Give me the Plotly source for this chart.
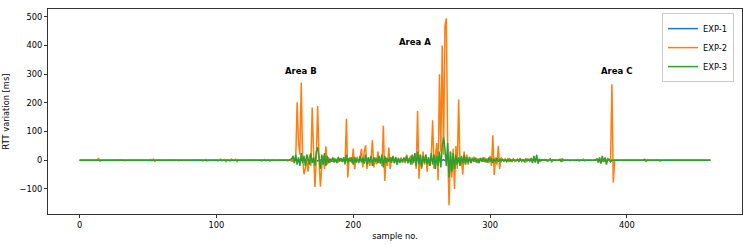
import plotly.graph_objects as go

exp2 = [
    0,0,0,0,0,0,0,0,0,0,0,0,0,3,6,-4,0,0,0,0,
    0,0,0,0,0,0,0,0,0,0,0,0,2,-2,0,0,0,0,0,0,
    0,0,0,0,0,0,0,0,0,0,0,0,3,-2,4,-4,0,0,0,0,
    0,0,0,0,0,0,0,0,0,0,0,2,-2,0,0,0,0,0,0,0,
    0,0,0,0,0,0,0,0,0,2,-3,0,3,-2,0,0,0,0,0,0,
    2,-3,0,4,-2,0,3,-5,2,0,-3,4,0,-2,3,-6,2,0,0,0,
    0,0,0,0,0,0,0,0,0,0,0,0,2,-3,0,3,-2,0,2,-3,
    0,2,0,0,0,0,0,0,0,0,0,2,-2,0,3,-5,10,-8,15,202,
    60,20,271,10,-49,-30,5,-40,20,-20,184,30,-93,10,189,0,-92,-20,15,-30,
    49,-15,10,-10,5,-5,8,-3,2,-8,5,3,-5,10,-15,145,-60,5,10,-10,
    41,-31,5,10,-5,8,40,-25,30,52,-30,10,-20,5,70,-25,10,-15,30,-10,
    5,-20,120,-72,10,-20,44,-30,10,5,-10,8,0,5,-8,10,-5,5,-10,20,
    -10,5,15,-15,5,20,-30,172,-64,20,-30,30,-15,20,-40,10,-20,15,139,-30,
    10,60,-70,300,30,400,20,470,495,40,-157,30,-60,40,-100,50,-30,212,-20,10,
    -50,30,-10,20,-15,10,-10,5,10,-5,8,-10,5,0,5,-5,10,-8,5,-10,
    15,-20,87,-51,10,-15,50,-30,10,0,-5,5,0,-5,8,-3,0,5,-5,0,
    3,-5,8,-4,2,0,-6,5,0,3,-3,0,5,-5,3,0,-4,2,0,0,
    3,-2,0,0,5,-4,0,2,0,0,0,0,4,-3,0,0,0,2,-2,0,
    0,0,0,0,3,-3,0,0,4,-2,0,0,0,0,0,0,0,0,0,3,
    -4,5,-3,2,8,-4,3,0,-5,265,-78,0,0,0,0,0,0,0,0,0,
    0,0,0,0,0,0,0,0,0,0,0,0,0,3,-4,2,0,0,0,0,
    0,0,0,2,-3,0,0,0,0,0,0,0,0,0,0,0,0,0,0,0,
    0,0,0,0,0,0,0,0,0,0,0,0,0,0,0,0,0,0,0,0,
    0,0,
]

exp3 = [
    0,0,0,0,0,0,0,0,0,0,0,0,0,0,0,0,0,0,0,0,
    0,0,0,0,0,0,0,0,0,0,0,0,0,0,0,0,0,0,0,0,
    0,0,0,0,0,0,0,0,0,0,0,0,0,0,0,0,1,-1,0,0,
    0,0,0,0,0,0,0,0,0,0,0,0,0,0,0,0,0,0,0,0,
    0,0,0,0,0,0,0,0,0,0,0,0,0,0,0,0,0,0,0,0,
    0,0,0,0,0,0,0,0,0,0,0,0,0,0,0,0,0,0,0,0,
    0,0,0,0,0,0,0,0,0,0,0,0,0,0,0,0,0,0,0,0,
    0,0,0,0,0,0,0,0,0,0,0,0,0,0,2,5,15,-10,20,-15,
    10,-20,25,-10,15,-20,20,5,-15,25,-10,10,-20,30,45,10,-30,20,-15,25,
    -20,15,-10,5,-5,10,-8,5,-10,12,-5,8,-6,10,-12,20,-10,8,-5,10,
    -15,12,-8,5,-10,15,-8,10,-12,20,-15,10,-8,15,-20,10,-5,8,-10,15,
    -12,20,-25,15,-10,8,-5,10,-8,15,-10,12,-15,8,-10,5,-8,10,-5,15,
    -10,8,-15,20,-10,25,-20,30,-15,20,-25,15,-10,20,-15,10,-20,25,-15,20,
    -30,15,-20,30,-25,50,80,40,-20,60,-60,30,-40,25,-30,20,-15,10,-20,15,
    -10,20,-15,10,-8,12,-10,8,-5,10,-8,5,-10,8,-5,10,-6,5,-8,10,
    -5,8,-10,5,-6,8,-5,3,-4,5,-3,2,-5,4,-3,2,-4,3,0,-2,
    3,-4,5,-3,2,-5,4,-2,3,-3,8,-10,15,-8,20,-12,5,-3,2,0,
    0,2,-3,0,4,-5,2,0,0,0,0,3,-6,4,0,0,0,0,0,0,
    0,0,0,0,0,0,0,0,0,0,0,0,0,0,0,0,0,0,5,-8,
    10,-12,15,-6,8,-15,5,3,-5,0,0,0,0,0,0,0,0,0,0,0,
    0,0,0,0,0,0,0,0,0,0,0,0,0,3,-2,0,0,0,0,0,
    0,0,0,0,0,0,0,0,0,0,0,0,0,0,0,0,0,0,0,0,
    0,0,0,0,0,0,0,0,0,0,0,0,0,0,0,0,0,0,0,0,
    0,0,
]

exp1 = [
    0,0,0,0,0,0,0,0,0,0,0,0,0,0,0,0,0,0,0,0,
    0,0,0,0,0,0,0,0,0,0,0,0,0,0,0,0,0,0,0,0,
    0,0,0,0,0,0,0,0,0,0,0,0,0,0,0,0,0,0,0,0,
    0,0,0,0,0,0,0,0,0,0,0,0,0,0,0,0,0,0,0,0,
    0,0,0,0,0,0,0,0,0,0,0,0,0,0,0,0,0,0,0,0,
    0,0,0,0,0,0,0,0,0,0,0,0,0,0,0,0,0,0,0,0,
    0,0,0,0,0,0,0,0,0,0,0,0,0,0,0,0,0,0,0,0,
    0,0,0,0,0,0,1,-1,0,0,0,0,0,0,0,2,-2,1,0,-1,
    2,-1,0,1,-2,0,1,0,-1,2,0,-1,1,0,-2,1,0,0,1,-1,
    0,1,0,-1,0,1,0,0,-1,1,0,0,1,-1,0,0,1,0,-1,0,
    1,0,-1,0,0,1,0,-1,1,0,0,-1,0,1,0,0,-1,0,1,0,
    0,-1,1,0,0,0,1,-1,0,0,1,0,-1,0,0,1,0,0,-1,0,
    1,0,0,-1,0,1,0,-1,0,1,0,0,-1,1,0,0,1,-1,0,2,
    -2,1,3,-2,1,0,2,-1,0,1,-2,0,1,-1,0,1,0,-1,0,1,
    0,-1,0,1,0,0,-1,0,1,0,0,0,-1,0,0,1,0,0,0,0,
    0,0,0,0,0,0,0,0,0,0,0,0,0,0,0,0,0,0,0,0,
    0,0,0,0,0,0,0,0,0,0,0,0,0,0,0,0,0,0,0,0,
    0,0,0,0,0,0,0,0,0,0,0,0,0,0,0,0,0,0,0,0,
    0,0,0,0,0,0,0,0,0,0,0,0,0,0,0,0,0,0,0,0,
    0,0,0,0,0,0,0,0,0,0,0,0,0,0,0,0,0,0,0,0,
    0,0,0,0,0,0,0,0,0,0,0,0,0,0,0,0,0,0,0,0,
    0,0,0,0,0,0,0,0,0,0,0,0,0,0,0,0,0,0,0,0,
    0,0,0,0,0,0,0,0,0,0,0,0,0,0,0,0,0,0,0,0,
    0,0,
]

samples = list(range(len(exp2)))
series_names = ["EXP-1", "EXP-2", "EXP-3"]
series_colors = ["#1f77b4", "#ff7f0e", "#2ca02c"]
area_labels = ["Area A", "Area B", "Area C"]
area_x = [245, 161.7, 392]
area_y = [411, 310, 310]

FONT = "DejaVu Sans"
fig = go.Figure()
for name, vals, col in zip(series_names, [exp1, exp2, exp3], series_colors):
    fig.add_trace(go.Scatter(x=samples[:len(vals)], y=vals, mode="lines", name=name,
                             line=dict(color=col, width=1.5)))

for t, ax, ay in zip(area_labels, area_x, area_y):
    fig.add_annotation(x=ax, y=ay, xref="x", yref="y", text="<b>%s</b>" % t,
                       showarrow=False, font=dict(family=FONT, size=8.5, color="black"))

axis_common = dict(showline=True, linecolor="#333333", linewidth=1, mirror=True,
                   ticks="outside", ticklen=3, tickwidth=1, tickcolor="#333333",
                   showgrid=False, zeroline=False,
                   tickfont=dict(family=FONT, size=8.3, color="black"))

n = len(exp2) - 1
fig.update_xaxes(range=[-0.05 * n, n * 1.05], tickvals=[0, 100, 200, 300, 400],
                 title=dict(text="sample no.", font=dict(family=FONT, size=8.3, color="black"), standoff=4),
                 **axis_common)
fig.update_yaxes(range=[-187.5, 527.5], tickvals=[-100, 0, 100, 200, 300, 400, 500],
                 title=dict(text="RTT variation [ms]", font=dict(family=FONT, size=8.3, color="black"), standoff=8),
                 **axis_common)

fig.update_layout(
    width=747, height=245,
    margin=dict(l=48, r=5, t=9, b=31),
    paper_bgcolor="white", plot_bgcolor="white",
    font=dict(family=FONT, size=8.3, color="black"),
    showlegend=True,
    legend=dict(x=0.9885, y=0.98, xanchor="right", yanchor="top",
                bgcolor="rgba(255,255,255,0.8)", bordercolor="#cccccc", borderwidth=1,
                font=dict(family=FONT, size=8.3, color="black"), tracegroupgap=0,
                itemwidth=30),
)

fig.write_html("out.html")
